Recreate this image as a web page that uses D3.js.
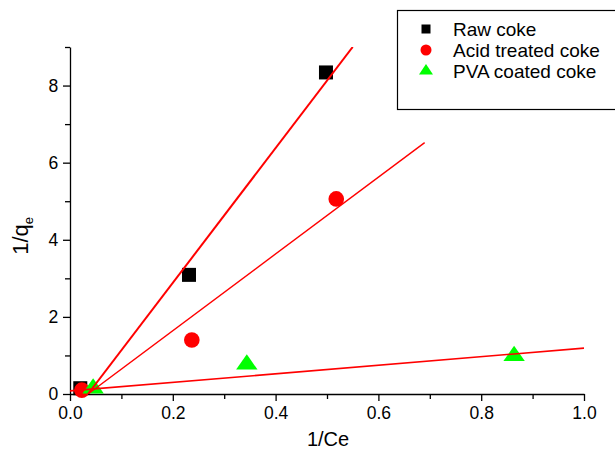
<!DOCTYPE html>
<html>
<head>
<meta charset="utf-8">
<script src="https://cdn.jsdelivr.net/npm/d3@7"></script>
<style>
  body { margin: 0; background: #fff; }
  text { font-family: "Liberation Sans", Arial, sans-serif; fill: #000; }
</style>
</head>
<body>
<div id="chart"></div>
<script>
// Langmuir plot data
const seriesNames = ["Raw coke", "Acid treated coke", "PVA coated coke"];
const rawX = [0.02, 0.2315, 0.498];
const rawY = [0.15, 3.09, 8.34];
const acidX = [0.023, 0.237, 0.518];
const acidY = [0.1, 1.40, 5.06];
const pvaX = [0.045, 0.344, 0.864];
const pvaY = [0.12, 0.74, 0.96];
// fitted lines: [x start, y start, x end, y end]
const rawFit = [0.035, 0, 0.55, 9];
const acidFit = [0.035, 0, 0.69, 6.52];
const pvaFit = [0, 0.08, 1.0, 1.19];
const xTicks = [0, 0.2, 0.4, 0.6, 0.8, 1.0];
const yTicks = [0, 2, 4, 6, 8];

const width = 615, height = 453;
const margin = { left: 70, right: 31, top: 47, bottom: 59 };

const svg = d3.select("#chart").append("svg")
    .attr("width", width)
    .attr("height", height);

const x = d3.scaleLinear().domain([0, 1]).range([margin.left, width - margin.right]);
const y = d3.scaleLinear().domain([0, 9]).range([height - margin.bottom, margin.top]);

// clip so the steep fit line stops at the top of the frame
svg.append("clipPath").attr("id", "plotclip")
  .append("rect")
    .attr("x", margin.left).attr("y", margin.top)
    .attr("width", x(1) - margin.left).attr("height", y(0) - margin.top);

// minor ticks
svg.append("g")
    .attr("transform", `translate(0,${y(0)})`)
    .call(d3.axisBottom(x).tickValues([0.1, 0.3, 0.5, 0.7, 0.9]).tickSize(5).tickFormat(""))
    .call(g => g.select(".domain").remove());
svg.append("g")
    .attr("transform", `translate(${x(0)},0)`)
    .call(d3.axisLeft(y).tickValues([1, 3, 5, 7, 9]).tickSize(5).tickFormat(""))
    .call(g => g.select(".domain").remove());

// major axes
const xAxis = svg.append("g")
    .attr("transform", `translate(0,${y(0)})`)
    .call(d3.axisBottom(x).tickValues(xTicks).tickSize(7).tickSizeOuter(0).tickFormat(d3.format(".1f")));
xAxis.selectAll("text").attr("font-size", 17.5).attr("dy", "0.86em");

const yAxis = svg.append("g")
    .attr("transform", `translate(${x(0)},0)`)
    .call(d3.axisLeft(y).tickValues(yTicks).tickSize(7).tickSizeOuter(0).tickFormat(d3.format("d")));
yAxis.selectAll("text").attr("font-size", 17.5).attr("dx", "-0.1em");

svg.selectAll(".domain, .tick line").attr("stroke", "#000").attr("stroke-width", 1.3);

// axis titles
svg.append("text")
    .attr("x", x(0.5) + 1).attr("y", 446)
    .attr("text-anchor", "middle")
    .attr("font-size", 20)
    .text("1/Ce");

const yTitle = svg.append("text")
    .attr("transform", `translate(28,${y(4.1)}) rotate(-90)`)
    .attr("text-anchor", "middle")
    .attr("font-size", 22);
yTitle.append("tspan").text("1/q");
yTitle.append("tspan").attr("font-size", 13).attr("dy", 5).text("e");

// markers
const plot = svg.append("g");

plot.selectAll("rect.raw")
  .data(d3.zip(rawX, rawY))
  .join("rect")
    .attr("class", "raw")
    .attr("x", d => x(d[0]) - 7).attr("y", d => y(d[1]) - 7)
    .attr("width", 14).attr("height", 14)
    .attr("fill", "#000");

const pvaTri = d3.symbol().type(d3.symbolTriangle).size(150);
const acidDot = 7.8;

// fitted lines
const fits = [
  { f: rawFit, w: 2 },
  { f: acidFit, w: 1.4 },
  { f: pvaFit, w: 1.6 }
];

plot.selectAll("circle.acid")
  .data(d3.zip(acidX, acidY))
  .join("circle")
    .attr("class", "acid")
    .attr("cx", d => x(d[0])).attr("cy", d => y(d[1]))
    .attr("r", acidDot)
    .attr("fill", "#ff0000");

plot.selectAll("path.pva")
  .data(d3.zip(pvaX, pvaY))
  .join("path")
    .attr("class", "pva")
    .attr("transform", d => `translate(${x(d[0])},${y(d[1]) - 1}) scale(1.15,0.95)`)
    .attr("d", pvaTri)
    .attr("fill", "#00ff00");

svg.append("g").attr("clip-path", "url(#plotclip)")
  .selectAll("line")
  .data(fits)
  .join("line")
    .attr("x1", d => x(d.f[0])).attr("y1", d => y(d.f[1]))
    .attr("x2", d => x(d.f[2])).attr("y2", d => y(d.f[3]))
    .attr("stroke", "#ff0000")
    .attr("stroke-width", d => d.w);

// legend
const legend = svg.append("g");
legend.append("rect")
    .attr("x", 397.5).attr("y", 10.5)
    .attr("width", 222).attr("height", 99)
    .attr("fill", "#fff")
    .attr("stroke", "#000")
    .attr("stroke-width", 1.2);

const rows = legend.selectAll("g.row")
  .data(seriesNames)
  .join("g")
    .attr("class", "row")
    .attr("transform", (d, i) => `translate(426,${29 + i * 21})`);

rows.append("text")
    .attr("x", 27).attr("y", 7)
    .attr("font-size", 19)
    .text(d => d);

rows.filter((d, i) => i === 0).append("rect")
    .attr("x", -4.5).attr("y", -4.5).attr("width", 9).attr("height", 9)
    .attr("fill", "#000");
rows.filter((d, i) => i === 1).append("circle")
    .attr("r", 5.5).attr("fill", "#ff0000");
rows.filter((d, i) => i === 2).append("path")
    .attr("d", d3.symbol().type(d3.symbolTriangle).size(70))
    .attr("transform", "scale(1.1,0.95)")
    .attr("fill", "#00ff00");
</script>
</body>
</html>
